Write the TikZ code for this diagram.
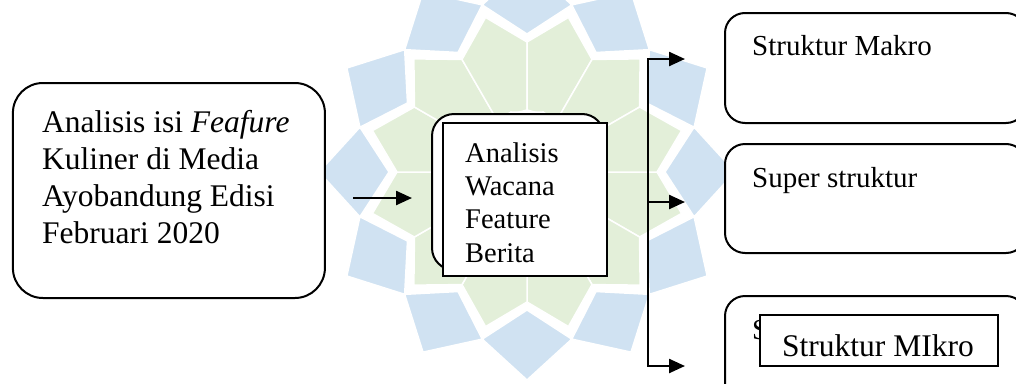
\documentclass[tikz,border=0pt]{standalone}
\usepackage{fontspec}
\setmainfont{Liberation Serif}
\usetikzlibrary{arrows.meta}
\definecolor{wmblue}{RGB}{208,226,242}
\definecolor{wmgreen}{RGB}{227,239,217}
\newcommand\fntA{\fontsize{31.5pt}{36.7pt}\selectfont}
\newcommand\fntB{\fontsize{28.5pt}{33.3pt}\selectfont}
\newcommand\fntC{\fontsize{29pt}{34pt}\selectfont}
\tikzset{
  roundbox/.style={draw, fill=white, line width=2pt, rounded corners=#1, inner sep=0pt},
  squarebox/.style={draw, fill=white, line width=2pt, inner sep=0pt},
  label text/.style={inner sep=0pt, anchor=base west, align=left},
  flow/.style={line width=2.4pt, -{Triangle[length=16pt,width=14pt]}},
  fork/.style={line width=2.4pt, {Triangle[length=16pt,width=14pt]}-{Triangle[length=16pt,width=14pt]}},
  wm blue/.style={fill=wmblue, draw=white, line width=1.5pt},
  wm green/.style={fill=wmgreen, draw=white, line width=1.5pt}
}
\begin{document}
\begin{tikzpicture}[x=1pt,y=-1pt]
\clip (0,0) rectangle (1016,383);
\fill[white] (0,0) rectangle (1016,383);

% background emblem
\begin{scope}[shift={(527,172)}]
  \foreach \a in {15,45,...,345} {
    \path[wm green] (\a-15:62) -- (\a-15:130) -- (\a:160) -- (\a+15:130) -- (\a+15:62) -- cycle;
  }
  \foreach \a in {0,30,...,330} {
    \path[wm blue] (\a:138) -- (\a-15:173) -- (\a:208) -- (\a+15:173) -- cycle;
  }
  \foreach \a in {0,30,...,330} {
    \path[wm green] (0,0) -- (\a-15:62) -- (\a+15:62) -- cycle;
  }
\end{scope}

% source box
\node[roundbox=30pt, minimum width=312pt, minimum height=215pt] (src) at (168.9,190.5) {};
\node[label text, font=\fntA] (srctext) at (42,243)
  {Analisis isi \textit{Feafure}\\Kuliner di Media\\Ayobandung Edisi\\Februari 2020};

% analysis box (rounded frame behind a plain frame)
\node[roundbox=22pt, minimum width=172pt, minimum height=156pt] (midback) at (518,192) {};
\node[squarebox, minimum width=164pt, minimum height=153pt] (mid) at (525,199.5) {};
\node[label text, font=\fntB] (midtext) at (465,262) {Analisis\\Wacana\\Feature\\Berita};

% result boxes
\node[roundbox=20pt, minimum width=301pt, minimum height=110pt] (macro) at (875.5,68) {};
\node[label text, font=\fntC] (macrotext) at (752,55) {Struktur Makro};
\node[roundbox=20pt, minimum width=301pt, minimum height=109pt] (super) at (875.5,198.5) {};
\node[label text, font=\fntC] (supertext) at (752,187) {Super struktur};
\node[roundbox=20pt, minimum width=301pt, minimum height=124pt] (micro) at (875.5,358) {};
\node[label text, font=\fntC] (microtext) at (752,339) {S};
\node[squarebox, minimum width=238pt, minimum height=51pt] (microlabel) at (879,340.5) {};
\node[label text, font=\fntA] (microlabeltext) at (782,356) {Struktur MIkro};

% connectors
\coordinate (a1s) at (353,198);
\coordinate (a1e) at (412,198);
\draw[flow] (a1s) -- (a1e);

\coordinate (f1) at (648,59);
\coordinate (f2) at (648,202);
\coordinate (f3) at (648,366);
\coordinate (t1) at (685,59);
\coordinate (t2) at (685,202);
\coordinate (t3) at (685,366);
\draw[fork] (t1) -- (f1) -- (f3) -- (t3);
\draw[flow] (f2) -- (t2);
\end{tikzpicture}
\end{document}
